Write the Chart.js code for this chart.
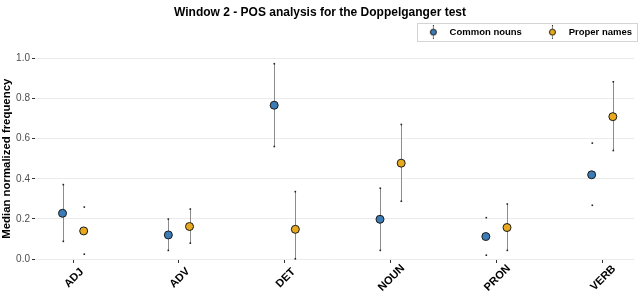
<!DOCTYPE html>
<html><head><meta charset="utf-8">
<script src="https://cdn.jsdelivr.net/npm/chart.js@4"></script>
<style>html,body{margin:0;padding:0;background:#fff}#wrap{width:640px;height:294px}</style>
</head><body><div id="wrap"><canvas id="c"></canvas></div>
<script>
// ---- data ----
const categories = ['ADJ', 'ADV', 'DET', 'NOUN', 'PRON', 'VERB'];
const seriesNames = ['Common nouns', 'Proper names'];
const commonMedian = [0.228, 0.120, 0.767, 0.198, 0.112, 0.420];
const commonLow    = [0.087, 0.042, 0.560, 0.042, 0.018, 0.267];
const commonHigh   = [0.370, 0.198, 0.973, 0.352, 0.205, 0.577];
const properMedian = [0.140, 0.162, 0.148, 0.478, 0.157, 0.710];
const properLow    = [0.023, 0.078, 0.000, 0.287, 0.042, 0.540];
const properHigh   = [0.258, 0.248, 0.335, 0.670, 0.273, 0.883];
const yTicks = [0, 0.2, 0.4, 0.6, 0.8, 1.0];
// whether the whisker line itself is visible (only the end dots show otherwise)
const commonWhiskerShown = [true, true, true, true, false, false];
const properWhiskerShown = [false, true, true, true, true, true];

const BLUE = '#3b7bb6', ORANGE = '#e8a91c';
const DODGE = 0.1;
const FONT = '"Liberation Sans", Arial, Helvetica, sans-serif';

function markerImage(color) {
  const c = document.createElement('canvas');
  c.width = 34; c.height = 14;
  const g = c.getContext('2d');
  const cx = 22.5;
  g.strokeStyle = '#8c8c8c'; g.lineWidth = 1;
  g.beginPath(); g.moveTo(cx, 0.5); g.lineTo(cx, 13.5); g.stroke();
  g.fillStyle = '#222';
  g.fillRect(cx - 0.5, 0, 1, 1); g.fillRect(cx - 0.5, 13, 1, 1);
  g.beginPath(); g.arc(cx, 7, 3, 0, Math.PI * 2);
  g.fillStyle = color; g.fill();
  g.strokeStyle = '#1a1a1a'; g.stroke();
  return c;
}

const whiskers = {
  id: 'whiskers',
  beforeDatasetsDraw(chart) {
    const {ctx, scales: {x, y}} = chart;
    const sets = [
      [commonLow, commonHigh, commonWhiskerShown, -DODGE],
      [properLow, properHigh, properWhiskerShown, DODGE]
    ];
    ctx.save();
    sets.forEach(([lo, hi, shown, off]) => {
      categories.forEach((c, i) => {
        const px = Math.round(x.getPixelForValue(i + 1 + off)) + 0.5;
        const yl = y.getPixelForValue(lo[i]);
        const yh = y.getPixelForValue(hi[i]);
        if (shown[i]) {
          ctx.strokeStyle = '#8c8c8c'; ctx.lineWidth = 1;
          ctx.beginPath(); ctx.moveTo(px, yl); ctx.lineTo(px, yh); ctx.stroke();
        }
        ctx.fillStyle = '#222';
        ctx.fillRect(px - 1, yl - 1, 1.6, 1.6);
        ctx.fillRect(px - 1, yh - 1, 1.6, 1.6);
      });
    });
    ctx.restore();
  }
};

const xLabels = {
  id: 'xLabels',
  afterDraw(chart) {
    const {ctx, scales: {x}, chartArea} = chart;
    ctx.save();
    ctx.font = 'bold 11px ' + FONT;
    ctx.fillStyle = '#000';
    ctx.textAlign = 'center';
    ctx.textBaseline = 'middle';
    categories.forEach((c, i) => {
      const px = x.getPixelForValue(i + 1);
      ctx.save();
      ctx.translate(px + 1, chartArea.bottom + 19);
      ctx.rotate(-Math.PI / 4);
      ctx.fillText(c, 0, 0);
      ctx.restore();
    });
    ctx.restore();
  }
};

const legendBox = {
  id: 'legendBox',
  afterDraw(chart) {
    const hb = chart.legend && chart.legend.legendHitBoxes;
    if (!hb || !hb.length) return;
    const first = hb[0], last = hb[hb.length - 1];
    const cy = first.top + first.height / 2;
    const l = first.left + 6.5, r = last.left + last.width + 5;
    const {ctx} = chart;
    ctx.save();
    ctx.strokeStyle = '#d4d4d4'; ctx.lineWidth = 1;
    ctx.strokeRect(Math.round(l) + 0.5, Math.round(cy - 9) + 0.5, Math.round(r - l), 18);
    ctx.restore();
  }
};

new Chart(document.getElementById('c'), {
  type: 'scatter',
  data: {
    datasets: [
      { label: seriesNames[0],
        data: categories.map((c, i) => ({x: i + 1 - DODGE, y: commonMedian[i]})),
        backgroundColor: BLUE, borderColor: '#1a1a1a', borderWidth: 1,
        pointRadius: 4, pointHoverRadius: 4, pointStyle: 'circle' },
      { label: seriesNames[1],
        data: categories.map((c, i) => ({x: i + 1 + DODGE, y: properMedian[i]})),
        backgroundColor: ORANGE, borderColor: '#1a1a1a', borderWidth: 1,
        pointRadius: 4, pointHoverRadius: 4, pointStyle: 'circle' }
    ]
  },
  options: {
    responsive: true, maintainAspectRatio: false, animation: false,
    devicePixelRatio: 1,
    layout: {padding: 0},
    plugins: {
      tooltip: {enabled: false},
      title: {
        display: true, text: 'Window 2 - POS analysis for the Doppelganger test',
        color: '#000', font: {family: FONT, size: 12, weight: 'bold'},
        padding: {top: 5, bottom: 0}
      },
      subtitle: {
        // empty spacer placed between legend and plot area
        display: true, text: ' ', weight: 500, position: 'top',
        font: {family: FONT, size: 2}, padding: {top: 0, bottom: 9.2}
      },
      legend: {
        display: true, position: 'top', align: 'end',
        labels: {
          color: '#000', font: {family: FONT, size: 9.5, weight: 'bold'},
          usePointStyle: true, pointStyleWidth: 34, padding: 8,
          generateLabels: (chart) => chart.data.datasets.map((d, i) => ({
            text: d.label, pointStyle: markerImage(i === 0 ? BLUE : ORANGE),
            fillStyle: d.backgroundColor, strokeStyle: '#1a1a1a', lineWidth: 0,
            hidden: false, datasetIndex: i, fontColor: '#000'
          }))
        }
      }
    },
    scales: {
      x: {
        type: 'linear', min: 0.64, max: 6.3,
        afterBuildTicks: s => { s.ticks = categories.map((c, i) => ({value: i + 1})); },
        afterFit: s => { s.height = 35; s.paddingRight = 6; },
        ticks: {display: false, includeBounds: false},
        grid: {display: true, drawOnChartArea: false, drawTicks: true, tickLength: 4, tickColor: '#333', lineWidth: 1},
        border: {display: false}
      },
      y: {
        type: 'linear', min: 0, max: 1,
        afterBuildTicks: s => { s.ticks = yTicks.map(v => ({value: v})); },
        afterFit: s => { s.width = 35; },
        ticks: {color: '#4d4d4d', font: {family: FONT, size: 10}, padding: 2,
                callback: v => Number(v).toFixed(1)},
        grid: {color: '#ebebeb', lineWidth: 1, drawTicks: true, tickLength: 3, tickColor: '#333'},
        border: {display: false},
        title: {display: true, text: 'Median normalized frequency', color: '#000',
                font: {family: FONT, size: 11.4, weight: 'bold'}, padding: 0}
      }
    }
  },
  plugins: [whiskers, xLabels, legendBox]
});
</script>
</body></html>
